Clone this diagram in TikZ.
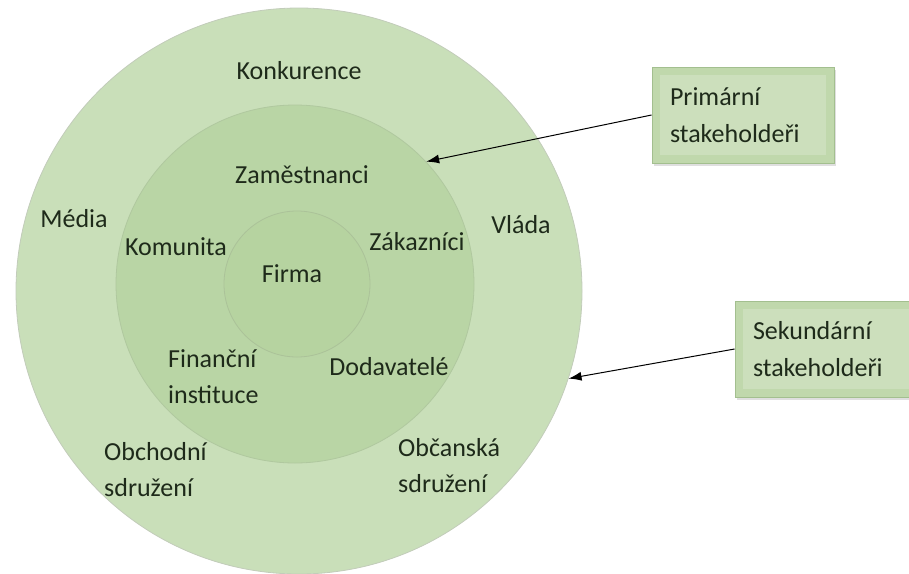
\documentclass[tikz,border=0pt]{standalone}
\usepackage{fontspec}
\setmainfont{Carlito}
\usetikzlibrary{arrows.meta,shadows}

\definecolor{ringout}{HTML}{C9DFB9}
\definecolor{ringmid}{HTML}{B9D5A5}
\definecolor{ringin}{HTML}{B6D3A0}
\definecolor{rimgray}{HTML}{C2CCBA}
\definecolor{boxgreen}{HTML}{C0D8AC}
\definecolor{boxedge}{HTML}{A3BF8F}
\definecolor{txt}{HTML}{1E2A1A}

\tikzset{
  disk/.style={circle,inner sep=0pt,draw=rimgray,line width=0.8pt},
  lbl/.style={text=txt,font=\fontsize{26}{36}\selectfont,inner sep=0pt},
  lbll/.style={lbl,align=left,anchor=west},
  stakebox/.style={rectangle,fill=boxgreen,draw=boxedge,line width=0.8pt,
    drop shadow={opacity=0.25,shadow xshift=2pt,shadow yshift=-3pt},
    minimum width=182pt,minimum height=96pt,text width=146pt,align=left,
    text=txt,font=\fontsize{26}{37}\selectfont,
    path picture={\fill[white,opacity=0.2]
      ([shift={(8pt,-8pt)}]path picture bounding box.north west) rectangle
      ([shift={(-8pt,8pt)}]path picture bounding box.south east);}},
  >={Latex[length=13pt,width=9pt]}
}

\begin{document}
\begin{tikzpicture}[x=1pt,y=-1pt]
    \useasboundingbox (0,0) rectangle (909,573);
    % rings
    \node[disk,fill=ringout,minimum size=566pt] (outer) at (299,291) {};
    \node[disk,fill=ringmid,draw=ringmid!85!gray,minimum size=358pt] (middle) at (295,284) {};
    \node[disk,fill=ringin,draw=ringin!80!gray,minimum size=146pt] (inner) at (297,284) {};
    % secondary
    \node[lbl] (konk) at (299,71) {Konkurence};
    \node[lbl] (media) at (74,219) {Média};
    \node[lbl] (vlada) at (521,225) {Vláda};
    \node[lbll] (obch) at (104,470) {Obchodní\\sdružení};
    \node[lbll] (obcan) at (398,466) {Občanská\\sdružení};
    % primary
    \node[lbl] (zam) at (302,175) {Zaměstnanci};
    \node[lbl] (komu) at (176,247) {Komunita};
    \node[lbl] (zak) at (417,242) {Zákazníci};
    \node[lbll] (fin) at (168,377) {Finanční\\instituce};
    \node[lbl] (dod) at (389,367) {Dodavatelé};
    \node[lbl] (firma) at (292,274) {Firma};
    % boxes
    \node[stakebox] (prim) at (743,115) {Primární\\stakeholdeři};
    \node[stakebox] (sek) at (826,349) {Sekundární\\stakeholdeři};
    \draw[->,line width=1pt] (prim.west) -- (middle.43);
    \draw[->,line width=1pt] (sek.west) -- (outer.-18);
\end{tikzpicture}
\end{document}
